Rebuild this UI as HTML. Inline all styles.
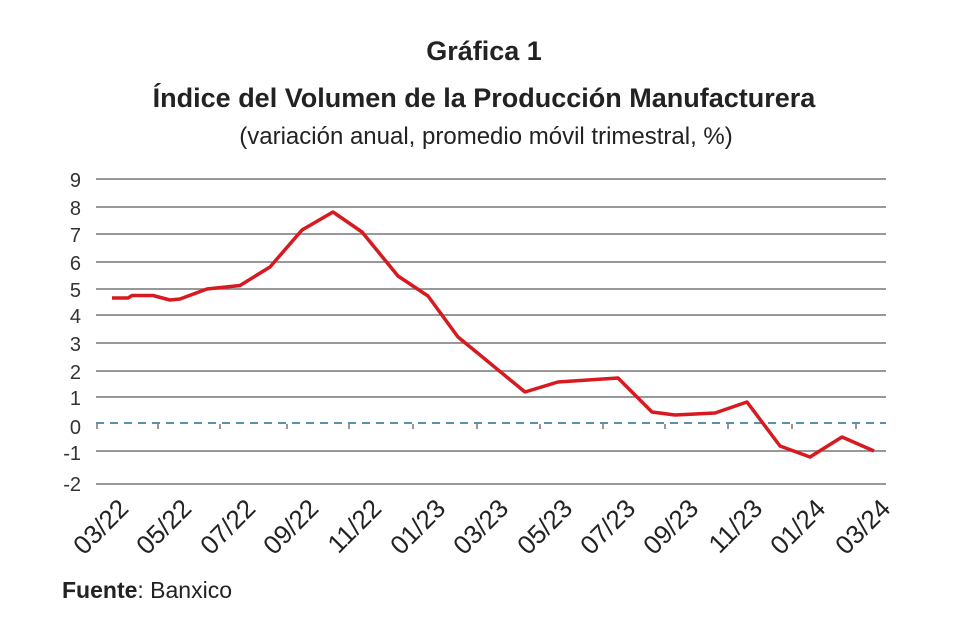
<!DOCTYPE html>
<html><head><meta charset="utf-8"><style>
html,body{margin:0;padding:0;background:#fff;}
svg{display:block;font-family:"Liberation Sans",sans-serif;}
</style></head><body>
<svg width="960" height="640" viewBox="0 0 960 640">
<text x="484" y="60" text-anchor="middle" font-size="27" font-weight="bold" fill="#222">Gráfica 1</text>
<text x="484" y="107" text-anchor="middle" font-size="27" font-weight="bold" fill="#222">Índice del Volumen de la Producción Manufacturera</text>
<text x="486" y="144" text-anchor="middle" font-size="24" fill="#222">(variación anual, promedio móvil trimestral, %)</text>
<g stroke="#777" stroke-width="1.5">
<line x1="96" x2="886" y1="179" y2="179"/>
<line x1="96" x2="886" y1="207" y2="207"/>
<line x1="96" x2="886" y1="234" y2="234"/>
<line x1="96" x2="886" y1="262" y2="262"/>
<line x1="96" x2="886" y1="289" y2="289"/>
<line x1="96" x2="886" y1="315" y2="315"/>
<line x1="96" x2="886" y1="343" y2="343"/>
<line x1="96" x2="886" y1="371" y2="371"/>
<line x1="96" x2="886" y1="397" y2="397"/>
<line x1="96" x2="886" y1="451" y2="451"/>
<line x1="96" x2="886" y1="484" y2="484"/>
</g>
<line x1="96" x2="886" y1="423" y2="423" stroke="#5a8fb0" stroke-width="2" stroke-dasharray="8,6"/>
<g stroke="#777" stroke-width="1.5">
<line x1="97" x2="97" y1="424" y2="429"/><line x1="158" x2="158" y1="424" y2="429"/><line x1="220" x2="220" y1="424" y2="429"/><line x1="287" x2="287" y1="424" y2="429"/><line x1="349" x2="349" y1="424" y2="429"/><line x1="413" x2="413" y1="424" y2="429"/><line x1="477" x2="477" y1="424" y2="429"/><line x1="540" x2="540" y1="424" y2="429"/><line x1="603" x2="603" y1="424" y2="429"/><line x1="665" x2="665" y1="424" y2="429"/><line x1="728" x2="728" y1="424" y2="429"/><line x1="792" x2="792" y1="424" y2="429"/><line x1="856" x2="856" y1="424" y2="429"/>
</g>
<g font-size="20" fill="#333" text-anchor="end">
<text x="81" y="187">9</text><text x="81" y="215">8</text><text x="81" y="242">7</text><text x="81" y="270">6</text><text x="81" y="297">5</text><text x="81" y="323">4</text><text x="81" y="351">3</text><text x="81" y="379">2</text><text x="81" y="405">1</text><text x="81" y="434">0</text><text x="81" y="460">-1</text><text x="81" y="491">-2</text>
</g>
<polyline fill="none" stroke="#d71920" stroke-width="3.5" stroke-linejoin="round" points="112,298 128,298 132,295.5 153,295.5 170,300 180,299 207,289 240,285.5 270,267 302,230 333,212 362,232 398,276 428,296 458,337 480,355 525,392 558,382 618,378 652,412 675,415 715,413 747,402 780,446 810,457 842,437 874,451"/>
<g font-size="26" fill="#222" text-anchor="end">
<text transform="translate(130,510) rotate(-45)">03/22</text>
<text transform="translate(193,510) rotate(-45)">05/22</text>
<text transform="translate(257,510) rotate(-45)">07/22</text>
<text transform="translate(320,510) rotate(-45)">09/22</text>
<text transform="translate(383,510) rotate(-45)">11/22</text>
<text transform="translate(447,510) rotate(-45)">01/23</text>
<text transform="translate(510,510) rotate(-45)">03/23</text>
<text transform="translate(574,510) rotate(-45)">05/23</text>
<text transform="translate(637,510) rotate(-45)">07/23</text>
<text transform="translate(700,510) rotate(-45)">09/23</text>
<text transform="translate(764,510) rotate(-45)">11/23</text>
<text transform="translate(827,510) rotate(-45)">01/24</text>
<text transform="translate(892,510) rotate(-45)">03/24</text>
</g>
<text x="62" y="598" font-size="23" fill="#222"><tspan font-weight="bold">Fuente</tspan>: Banxico</text>
</svg>
</body></html>
